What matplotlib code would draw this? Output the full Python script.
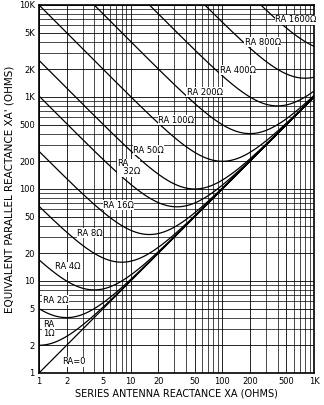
import numpy as np
import matplotlib
matplotlib.use("Agg")
import matplotlib.pyplot as plt

# series resistance values (ohms), one curve each
ra_values = [0, 1, 2, 4, 8, 16, 32, 50, 100, 200, 400, 800, 1600]
ra_labels = ["RA=0", "RA\n1Ω", "RA 2Ω", "RA 4Ω", "RA 8Ω", "RA 16Ω", "RA\n  32Ω",
             "RA 50Ω", "RA 100Ω", "RA 200Ω", "RA 400Ω", "RA 800Ω", "RA 1600Ω"]
# where each label sits (data coords)
label_xy = [(1.8, 1.32), (1.1, 3.0), (1.1, 6.2), (1.5, 14.2), (2.6, 33), (5.0, 67),
            (7.2, 170), (10.6, 265), (19.9, 562), (41, 1133), (94, 1965), (176, 3960), (375, 6870)]

x_ticks = [1, 2, 5, 10, 20, 50, 100, 200, 500, 1000]
x_ticklabels = ["1", "2", "5", "10", "20", "50", "100", "200", "500", "1K"]
y_ticks = [1, 2, 5, 10, 20, 50, 100, 200, 500, 1000, 2000, 5000, 10000]
y_ticklabels = ["1", "2", "5", "10", "20", "50", "100", "200", "500", "1K", "2K", "5K", "10K"]

fig = plt.figure(figsize=(3.24, 4.05), dpi=100)
ax = fig.add_axes([39/324, 1-373/405, 275/324, 368/405])
ax.set_xscale("log")
ax.set_yscale("log")
ax.set_xlim(1, 1000)
ax.set_ylim(1, 10000)

xa = np.logspace(0, 3, 600)
for ra in ra_values:
    xp = (ra**2 + xa**2) / xa   # equivalent parallel reactance
    ax.plot(xa, xp, color="black", lw=0.9)

for txt, (lx, ly) in zip(ra_labels, label_xy):
    ax.text(lx, ly, txt, fontsize=6, ha="left", va="center", linespacing=0.9,
            bbox=dict(facecolor="white", edgecolor="none", pad=0.3))

ax.grid(which="both", color="black", lw=0.6)
ax.set_axisbelow(True)
for s in ax.spines.values():
    s.set_linewidth(1.2)

ax.set_xticks(x_ticks)
ax.set_xticklabels(x_ticklabels, fontsize=6)
ax.set_yticks(y_ticks)
ax.set_yticklabels(y_ticklabels, fontsize=6)
ax.minorticks_off()
ax.tick_params(length=0, pad=3)
# keep minor gridlines
ax.set_xticks([m*10**e for e in range(3) for m in range(2, 10)], minor=True)
ax.set_yticks([m*10**e for e in range(4) for m in range(2, 10)], minor=True)
ax.tick_params(which="minor", length=0, labelleft=False, labelbottom=False)
ax.grid(which="minor", color="black", lw=0.5)

ax.set_xlabel("SERIES ANTENNA REACTANCE XA (OHMS)", fontsize=7, labelpad=2)
ax.set_ylabel("EQUIVALENT PARALLEL REACTANCE XA' (OHMS)", fontsize=7.5, labelpad=3)

fig.savefig("out.png", dpi=100)
